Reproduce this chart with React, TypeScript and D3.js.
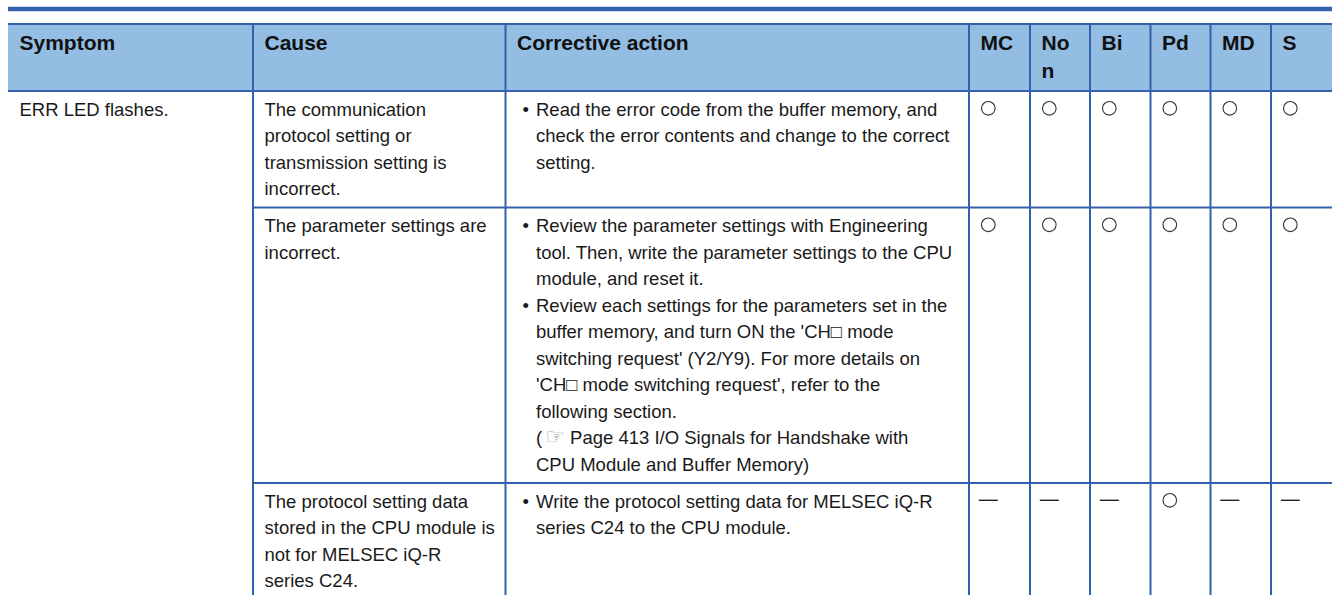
import React, { useRef, useEffect } from 'react';
import * as d3 from 'd3';

// table content
const headerLabels: string[][] = [
  ['Symptom'], ['Cause'], ['Corrective action'],
  ['MC'], ['No', 'n'], ['Bi'], ['Pd'], ['MD'], ['S'],
];

const symptoms = ['ERR LED flashes.'];

const causes: string[][] = [
  ['The communication', 'protocol setting or', 'transmission setting is', 'incorrect.'],
  ['The parameter settings are', 'incorrect.'],
  ['The protocol setting data', 'stored in the CPU module is', 'not for MELSEC iQ-R', 'series C24.'],
];

const actions: string[][][] = [
  [
    ['Read the error code from the buffer memory, and', 'check the error contents and change to the correct', 'setting.'],
  ],
  [
    ['Review the parameter settings with Engineering', 'tool. Then, write the parameter settings to the CPU', 'module, and reset it.'],
    ['Review each settings for the parameters set in the', "buffer memory, and turn ON the 'CH\u25A1 mode",
      "switching request' (Y2/Y9). For more details on", "'CH\u25A1 mode switching request', refer to the",
      'following section.', '(\u261E Page 413 I/O Signals for Handshake with', 'CPU Module and Buffer Memory)'],
  ],
  [
    ['Write the protocol setting data for MELSEC iQ-R', 'series C24 to the CPU module.'],
  ],
];

// o = supported, - = not supported
const marks: string[][] = [
  ['o', 'o', 'o', 'o', 'o', 'o'],
  ['o', 'o', 'o', 'o', 'o', 'o'],
  ['-', '-', '-', 'o', '-', '-'],
];

const App = () => {
  const ref = useRef<SVGSVGElement>(null);

  useEffect(() => {
    const width = 1335;
    const height = 595;
    const blue = '#3262ae';
    const headFill = '#93bde2';
    const font = "'Liberation Sans', Arial, sans-serif";
    const lineH = 26.5;
    const headTop = 24;
    const headBottom = 91;
    const pad = 11.5;

    // column edges
    const edges = [8, 253, 505.5, 969, 1030, 1090, 1150.5, 1210.5, 1271, 1332];
    const x = d3.scaleOrdinal<number, number>()
      .domain(d3.range(headerLabels.length))
      .range(edges.slice(0, -1));

    // row tops from line counts
    const rowLines = causes.map((c, i) => Math.max(c.length, d3.sum(actions[i], b => b.length)));
    const rowTops = [headBottom];
    rowLines.forEach(n => rowTops.push(rowTops[rowTops.length - 1] + n * lineH + 10.5));
    const y = d3.scaleOrdinal<number, number>().domain(d3.range(causes.length)).range(rowTops);

    const svg = d3.select(ref.current)
      .attr('width', width)
      .attr('height', height);
    svg.selectAll('*').remove();

    // header band
    svg.append('rect')
      .attr('x', edges[0]).attr('y', headTop)
      .attr('width', edges[edges.length - 1] - edges[0])
      .attr('height', headBottom - headTop)
      .attr('fill', headFill);

    svg.append('g')
      .selectAll('text')
      .data(headerLabels)
      .join('text')
      .attr('font-family', font)
      .attr('font-size', 21)
      .attr('font-weight', 'bold')
      .attr('fill', '#111')
      .selectAll('tspan')
      .data((d, i) => d.map(t => ({ t, i })))
      .join('tspan')
      .attr('x', d => x(d.i) + pad)
      .attr('y', (d, j) => 49.5 + j * 28)
      .text(d => d.t);

    const body = svg.append('g')
      .attr('font-family', font)
      .attr('font-size', 18.5)
      .attr('fill', '#1a1a1a');

    symptoms.forEach((s, i) => {
      body.append('text').attr('x', x(0) + pad).attr('y', y(i) + 24.7).text(s);
    });

    causes.forEach((lines, i) => {
      body.append('text')
        .selectAll('tspan')
        .data(lines)
        .join('tspan')
        .attr('x', x(1) + pad)
        .attr('y', (d, j) => y(i) + 24.7 + j * lineH)
        .text(d => d);
    });

    actions.forEach((bullets, i) => {
      let k = 0;
      bullets.forEach(lines => {
        body.append('text')
          .attr('x', x(2) + 17)
          .attr('y', y(i) + 24.7 + k * lineH)
          .text('\u2022');
        lines.forEach(line => {
          const t = body.append('text')
            .attr('x', x(2) + 30.5)
            .attr('y', y(i) + 24.7 + k * lineH);
          if (line.includes('\u261E')) {
            const [a, b] = line.split('\u261E');
            t.append('tspan').text(a);
            t.append('tspan')
              .attr('dx', 3)
              .attr('fill', '#9a9a9a')
              .attr('font-family', "'DejaVu Sans'")
              .attr('font-size', 22)
              .text('\u261E');
            t.append('tspan').text(b);
          } else {
            t.text(line);
          }
          k++;
        });
      });
    });

    // support marks
    marks.forEach((row, i) => {
      row.forEach((m, j) => {
        const cx = x(j + 3) + 19.3;
        const cy = y(i) + 17.3;
        if (m === 'o') {
          svg.append('circle')
            .attr('cx', cx).attr('cy', cy).attr('r', 6.8)
            .attr('fill', 'none').attr('stroke', '#333').attr('stroke-width', 1.1);
        } else {
          svg.append('line')
            .attr('x1', cx - 9.5).attr('x2', cx + 9.5)
            .attr('y1', cy).attr('y2', cy)
            .attr('stroke', '#222').attr('stroke-width', 1.4);
        }
      });
    });

    // rules
    const rules = svg.append('g').attr('stroke', blue);
    rules.append('line')
      .attr('x1', edges[0]).attr('x2', edges[edges.length - 1])
      .attr('y1', 9).attr('y2', 9).attr('stroke-width', 4.4);
    [headTop, headBottom].forEach(yy => {
      rules.append('line')
        .attr('x1', edges[0]).attr('x2', edges[edges.length - 1])
        .attr('y1', yy).attr('y2', yy).attr('stroke-width', 2);
    });
    rowTops.slice(1, -1).forEach(yy => {
      rules.append('line')
        .attr('x1', edges[1]).attr('x2', edges[edges.length - 1])
        .attr('y1', yy).attr('y2', yy).attr('stroke-width', 2);
    });
    edges.slice(1, -1).forEach(xx => {
      rules.append('line')
        .attr('x1', xx).attr('x2', xx)
        .attr('y1', headTop).attr('y2', height)
        .attr('stroke-width', 2);
    });
  }, []);

  return <svg ref={ref} style={{ position: 'absolute', left: 0, top: 0 }}></svg>;
};

export default App;
